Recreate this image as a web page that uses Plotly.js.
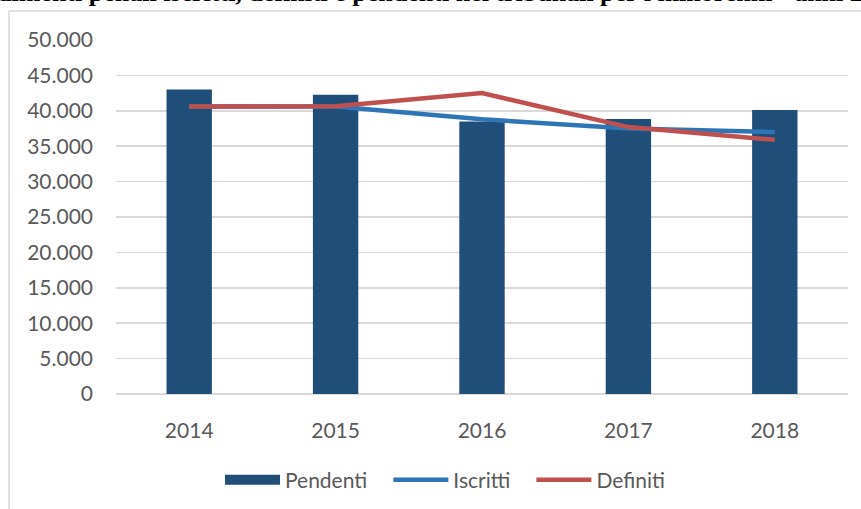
<!DOCTYPE html>
<html>
<head>
<meta charset="utf-8">
<script src="https://cdn.plot.ly/plotly-3.0.1.min.js"></script>
<style>html,body{margin:0;padding:0;background:#fff;}#chart{width:861px;height:509px;}</style>
</head>
<body>
<div id="chart"></div>
<script>
const years = ['2014', '2015', '2016', '2017', '2018'];
const pendenti = [43000, 42250, 38500, 38850, 40100];
const iscritti = [40600, 40600, 38800, 37500, 37000];
const definiti = [40600, 40650, 42500, 37700, 35900];
const seriesNames = ['Pendenti', 'Iscritti', 'Definiti'];
const titleText = 'Procedimenti penali iscritti, definiti e pendenti nei tribunali per i minorenni - anni 2014-2018';

const W = 861, H = 509;
const M = {l: 116, r: 13, t: 40, b: 115, autoexpand: false};
const pw = W - M.l - M.r, ph = H - M.t - M.b;
const px = x => (x - M.l) / pw;
const py = y => (H - M.b - y) / ph;

const font = {family: 'Lato, "Open Sans", sans-serif', size: 21, color: '#595959'};
const pad = '\u00a0\u00a0\u00a0';

const traces = [
  {type: 'bar', x: years, y: pendenti, name: seriesNames[0], marker: {color: '#1F4E79'}, showlegend: false, hoverinfo: 'x+y+name'},
  {type: 'scatter', mode: 'lines', x: [null], y: [null], name: seriesNames[0] + pad, line: {color: '#1F4E79', width: 13}, hoverinfo: 'skip'},
  {type: 'scatter', mode: 'lines', x: years, y: iscritti, name: seriesNames[1] + pad, line: {color: '#2E75B6', width: 4.5}},
  {type: 'scatter', mode: 'lines', x: years, y: definiti, name: seriesNames[2], line: {color: '#C0504D', width: 4.5}}
];

const layout = {
  width: W, height: H,
  margin: M,
  paper_bgcolor: '#fff', plot_bgcolor: '#fff',
  separators: ',.',
  font: font,
  bargap: 0.69,
  showlegend: true,
  legend: {
    orientation: 'h', x: px(220), xanchor: 'left', y: py(480), yanchor: 'middle',
    font: font, itemwidth: 55, tracegroupgap: 0, traceorder: 'normal',
    bgcolor: 'rgba(0,0,0,0)'
  },
  xaxis: {
    type: 'category', showgrid: false, zeroline: false, showline: false,
    ticks: '', tickfont: font, ticklabelstandoff: 22, fixedrange: true
  },
  yaxis: {
    range: [0, 50000], dtick: 5000, tickformat: ',d', showgrid: true,
    gridcolor: '#D9D9D9', gridwidth: 1.5, zeroline: true, zerolinecolor: '#D9D9D9', zerolinewidth: 1.5,
    showline: false, ticks: '', tickfont: font, ticklabelstandoff: 22, fixedrange: true
  },
  shapes: [
    {type: 'line', xref: 'paper', yref: 'paper', layer: 'above',
     x0: px(9), x1: px(861), y0: py(11), y1: py(11),
     line: {color: '#D9D9D9', width: 1.5}},
    {type: 'line', xref: 'paper', yref: 'paper', layer: 'above',
     x0: px(9), x1: px(9), y0: py(11), y1: py(509),
     line: {color: '#D9D9D9', width: 1.5}}
  ],
  annotations: [{
    xref: 'paper', yref: 'paper', x: 0, y: 1, xanchor: 'left', yanchor: 'bottom',
    xshift: -68 - M.l, yshift: M.t - 9,
    text: '<b>' + titleText + '</b>', showarrow: false,
    font: {family: '"Liberation Serif", "Times New Roman", serif', size: 26, color: '#000'}
  }]
};

Plotly.newPlot('chart', traces, layout, {displayModeBar: false, staticPlot: true});
</script>
</body>
</html>
